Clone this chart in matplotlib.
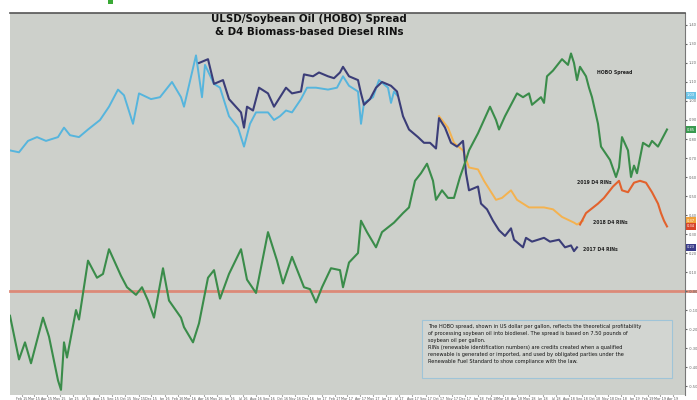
import matplotlib
matplotlib.use("Agg")
import matplotlib.pyplot as plt
import matplotlib.dates as mdates
from matplotlib.patches import Rectangle
import numpy as np

# weeks since start, values in US$
hobo_wk = [0, 3, 5, 7, 11, 13, 16, 17, 18, 19, 22, 23, 26, 29, 31, 33, 35, 37, 39, 42,
           44, 46, 48, 51, 53, 57, 58, 61, 63, 66, 68, 70, 73, 77, 79, 82, 86, 89, 91, 94,
           98, 100, 102, 104, 107, 110, 111, 113, 116, 117, 119, 122, 124, 128, 131, 133,
           135, 137, 139, 141, 142, 144, 146, 148, 150, 152, 153, 156, 158, 160, 162, 163,
           165, 168, 169, 171, 173, 174, 177, 178, 179, 181, 183, 184, 186, 187, 188, 189,
           190, 192, 193, 194, 196, 197, 200, 202, 203, 204, 206, 207, 208, 209, 211, 213,
           214, 216, 218, 219]
hobo_val = [-0.13, -0.36, -0.27, -0.38, -0.14, -0.24, -0.47, -0.52, -0.27, -0.35, -0.10,
            -0.15, 0.16, 0.07, 0.09, 0.22, 0.15, 0.08, 0.02, -0.02, 0.02, -0.05, -0.14,
            0.12, -0.05, -0.14, -0.19, -0.27, -0.17, 0.07, 0.11, -0.04, 0.09, 0.22, 0.06,
            -0.01, 0.31, 0.16, 0.04, 0.18, 0.02, 0.01, -0.06, 0.02, 0.12, 0.11, 0.02, 0.15,
            0.20, 0.37, 0.31, 0.23, 0.31, 0.36, 0.41, 0.44, 0.58, 0.62, 0.67, 0.58, 0.48,
            0.53, 0.49, 0.49, 0.60, 0.69, 0.74, 0.83, 0.90, 0.97, 0.90, 0.85, 0.92, 1.01,
            1.04, 1.02, 1.04, 0.98, 1.02, 0.99, 1.13, 1.16, 1.20, 1.22, 1.19, 1.25, 1.20,
            1.11, 1.18, 1.13, 1.07, 1.02, 0.88, 0.76, 0.69, 0.60, 0.65, 0.81, 0.74, 0.60,
            0.66, 0.62, 0.78, 0.76, 0.79, 0.76, 0.82, 0.85]

rin16_wk = [0, 3, 6, 9, 12, 16, 18, 20, 23, 26, 30, 33, 36, 38, 41, 43, 47, 50, 54, 57,
            58, 62, 64, 65, 68, 70, 73, 76, 78, 80, 82, 86, 88, 90, 92, 94, 97, 99, 102,
            106, 109, 111, 113, 116, 117, 118, 121, 123, 126, 127, 128, 129]
rin16_val = [0.74, 0.73, 0.79, 0.81, 0.79, 0.81, 0.86, 0.82, 0.81, 0.85, 0.90, 0.97, 1.06,
             1.03, 0.88, 1.04, 1.01, 1.02, 1.10, 1.02, 0.97, 1.24, 1.02, 1.19, 1.09, 1.07,
             0.92, 0.86, 0.76, 0.88, 0.94, 0.94, 0.90, 0.92, 0.95, 0.94, 1.01, 1.07, 1.07,
             1.06, 1.07, 1.13, 1.08, 1.05, 0.88, 0.99, 1.02, 1.11, 1.07, 0.99, 1.05, 1.03]

rin17_wk = [63, 66, 68, 71, 73, 77, 78, 79, 81, 83, 86, 88, 90, 92, 94, 97, 98, 101, 103,
            106, 108, 110, 111, 113, 116, 117, 118, 120, 122, 124, 127, 129, 131, 133, 136,
            138, 140, 142, 143, 145, 147, 149, 151, 152, 153, 156, 157, 159, 161, 163, 165,
            167, 168, 171, 172, 174, 178, 180, 183, 185, 187, 188, 189]
rin17_val = [1.20, 1.22, 1.09, 1.11, 1.01, 0.94, 0.86, 0.97, 0.95, 1.07, 1.04, 0.97, 1.02,
             1.07, 1.04, 1.05, 1.14, 1.13, 1.15, 1.13, 1.12, 1.15, 1.18, 1.13, 1.11, 1.04,
             0.98, 1.01, 1.07, 1.10, 1.08, 1.05, 0.92, 0.85, 0.81, 0.78, 0.78, 0.75, 0.91,
             0.86, 0.78, 0.76, 0.79, 0.62, 0.53, 0.55, 0.46, 0.43, 0.37, 0.32, 0.29, 0.33,
             0.27, 0.23, 0.28, 0.26, 0.28, 0.26, 0.27, 0.23, 0.24, 0.21, 0.23]

rin18_wk = [143, 146, 148, 151, 153, 156, 158, 160, 162, 164, 167, 169, 171, 173, 178,
            181, 184, 188, 189, 191]
rin18_val = [0.92, 0.86, 0.78, 0.74, 0.65, 0.64, 0.58, 0.53, 0.48, 0.49, 0.53, 0.48, 0.46,
             0.44, 0.44, 0.43, 0.39, 0.36, 0.35, 0.37]

rin19_wk = [190, 192, 196, 198, 201, 203, 204, 206, 208, 210, 212, 214, 216, 217, 218, 219]
rin19_val = [0.35, 0.41, 0.46, 0.49, 0.55, 0.58, 0.53, 0.52, 0.57, 0.58, 0.57, 0.52, 0.46,
             0.41, 0.37, 0.34]

zero_level = 0.0
start = np.datetime64("2015-01-05")


def to_dates(weeks):
    return start + np.array(weeks) * np.timedelta64(7, "D")


bg = "#cdd0cb"
fig = plt.figure(figsize=(6.97, 4.0), dpi=100)
ax = fig.add_axes([10 / 697, 5 / 400, 675 / 697, 382 / 400])
ax.set_facecolor(bg)

# zero line, runs on into the label column like the original
ax.plot([0, 1.018], [zero_level, zero_level], transform=ax.get_yaxis_transform(),
        color="#dc8a78", lw=2.0, zorder=1, clip_on=False)
ax.plot(to_dates(rin16_wk), rin16_val, color="#56b5dd", lw=1.4, zorder=3)
ax.plot(to_dates(rin17_wk), rin17_val, color="#3b3d78", lw=1.5, zorder=4)
ax.plot(to_dates(rin18_wk), rin18_val, color="#f4b24f", lw=1.4, zorder=3)
ax.plot(to_dates(rin19_wk), rin19_val, color="#e2622d", lw=1.5, zorder=4)
ax.plot(to_dates(hobo_wk), hobo_val, color="#3a8c4a", lw=1.5, zorder=5)

ax.set_xlim(to_dates([0])[0], to_dates([225])[0])
ax.set_ylim(-0.547, 1.463)

# right-hand axis labels and last-value tags
ax.yaxis.tick_right()
ax.set_yticks(np.arange(-0.5, 1.45, 0.1))
ax.yaxis.set_major_formatter(matplotlib.ticker.FormatStrFormatter("%.2f"))
ax.tick_params(axis="y", labelsize=2.6, length=1.5, pad=1, colors="#666666")
ax.xaxis.set_major_locator(mdates.MonthLocator())
ax.xaxis.set_major_formatter(mdates.DateFormatter("%b %y"))
ax.tick_params(axis="x", labelsize=2.4, length=1, pad=0.5, colors="#555555")
for s in ["left", "bottom"]:
    ax.spines[s].set_visible(False)
ax.spines["top"].set_color("#555555")
ax.spines["top"].set_linewidth(1.2)
ax.spines["right"].set_color("#777777")

for vals, col in [(rin16_val, "#6cc3e6"), (hobo_val, "#3a9a50"), (rin18_val, "#f0a23c"),
                  (rin19_val, "#d8452a"), (rin17_val, "#3b3d8a")]:
    ax.annotate(f"{vals[-1]:.2f}", xy=(1.0, vals[-1]), xycoords=("axes fraction", "data"),
                xytext=(1.5, 0), textcoords="offset points", fontsize=2.6, color="white",
                va="center", ha="left", annotation_clip=False,
                bbox=dict(boxstyle="square,pad=0.35", fc=col, ec="none"))

# series labels
lab = dict(fontsize=3.3, fontweight="bold", color="#222222", va="center")
ax.text(to_dates([195.7])[0], 1.15, "HOBO Spread", **lab)
ax.text(to_dates([189])[0], 0.57, "2019 D4 RINs", **lab)
ax.text(to_dates([194.3])[0], 0.36, "2018 D4 RINs", **lab)
ax.text(to_dates([191])[0], 0.22, "2017 D4 RINs", **lab)

ax.text(0.443, 0.997, "ULSD/Soybean Oil (HOBO) Spread\n& D4 Biomass-based Diesel RINs",
        transform=ax.transAxes, ha="center", va="top", fontsize=7.4, fontweight="bold",
        linespacing=1.4, color="#111111")

# note box
ax.add_patch(Rectangle((0.610, 0.045), 0.371, 0.151, transform=ax.transAxes,
                       fc="#d2d5d1", ec="#9fc4d8", lw=0.8, zorder=6))
note = ("The HOBO spread, shown in US dollar per gallon, reflects the theoretical profitability\n"
        "of processing soybean oil into biodiesel. The spread is based on 7.50 pounds of\n"
        "soybean oil per gallon.\n"
        "RINs (renewable identification numbers) are credits created when a qualified\n"
        "renewable is generated or imported, and used by obligated parties under the\n"
        "Renewable Fuel Standard to show compliance with the law.")
ax.text(0.619, 0.186, note, transform=ax.transAxes, ha="left", va="top", fontsize=3.6,
        linespacing=1.5, color="#111111", zorder=7)

# bit of the page heading above the chart
fig.patches.append(Rectangle((108 / 697, 396 / 400), 5 / 697, 4 / 400,
                             transform=fig.transFigure, fc="#39a935", ec="none"))

fig.savefig("out.png", dpi=100)
